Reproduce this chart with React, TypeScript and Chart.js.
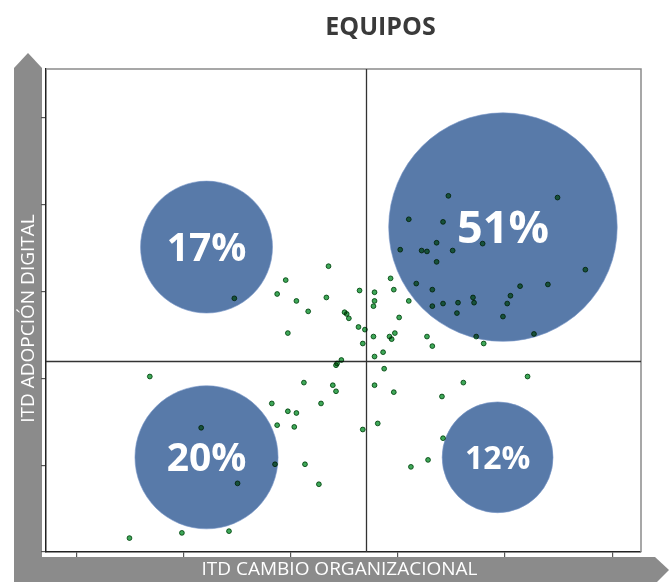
import React, { useEffect, useRef } from "react";
import { Chart, registerables } from "chart.js";

Chart.register(...registerables);

// ---- Text ----
const TITLE = "EQUIPOS";
const X_LABEL = "ITD CAMBIO ORGANIZACIONAL";
const Y_LABEL = "ITD ADOPCIÓN DIGITAL";

// ---- Axes ----
const X_TICKS = [10, 20, 30, 40, 50, 60];
const Y_TICKS = [0, 10, 20, 30, 40, 50];
const X_RANGE = [7.1, 62.7];
const Y_RANGE = [0, 55.6];
const X_SPLIT = 37.0;
const Y_SPLIT = 22.0;

// ---- Quadrant bubbles ----
const QUADRANT_LABELS = ["17%", "51%", "20%", "12%"];
const QUADRANT_SHARE = [17, 51, 20, 12];
const QUADRANT_X = [22.1, 49.8, 22.1, 49.3];
const QUADRANT_Y = [35.1, 37.4, 10.9, 10.9];

// ---- Individual teams ----
const TEAM_X = [
  33.5, 29.5, 28.7, 30.5, 31.6, 33.3, 36.4, 37.8, 37.8, 37.7,
  35.0, 35.2, 35.4, 29.7, 36.3, 36.9, 37.7, 36.7, 39.3, 39.6,
  41.0, 40.1, 39.7, 39.2, 39.4, 38.6, 37.8, 34.7, 34.3, 34.2,
  38.7, 31.2, 33.9, 34.2, 37.8, 39.6, 28.2, 32.8, 29.7, 30.5,
  28.7, 30.3, 36.7, 38.1, 28.5, 31.3, 32.6, 16.8, 21.6, 25.0,
  14.9, 19.8, 24.2, 46.1, 52.1, 44.1, 44.2, 42.8, 41.2, 24.7,
  44.7, 54.9, 41.0, 44.2, 43.6, 47.9, 40.2, 42.2, 42.7, 45.1,
  43.6, 57.5, 41.7, 43.2, 51.4, 54.0, 50.5, 44.2, 43.2, 45.6,
  47.0, 47.1, 50.2, 45.5, 49.8, 42.7, 43.2, 47.3, 52.7, 48.0,
];
const TEAM_Y = [
  32.9, 31.3, 29.7, 28.9, 27.7, 29.3, 30.1, 29.9, 28.9, 28.3,
  27.6, 27.4, 26.9, 25.2, 25.9, 25.6, 24.8, 24.0, 31.5, 30.2,
  28.9, 27.0, 25.2, 24.8, 24.5, 23.0, 22.5, 22.1, 21.7, 21.5,
  21.1, 19.5, 19.2, 18.5, 19.2, 18.4, 17.1, 17.1, 16.2, 16.0,
  14.6, 14.4, 14.1, 14.8, 10.1, 10.1, 7.8, 20.2, 14.3, 7.9,
  1.6, 2.2, 2.4, 19.5, 20.2, 17.9, 13.1, 10.6, 9.8, 29.2,
  41.0, 40.8, 38.3, 38.0, 35.6, 35.5, 34.8, 34.7, 34.6, 34.7,
  33.4, 32.5, 30.9, 30.2, 30.6, 30.8, 29.5, 28.6, 28.3, 28.7,
  29.3, 28.7, 28.6, 27.5, 27.1, 24.8, 23.7, 24.8, 25.1, 24.0,
];

// ---- Styles ----
const BUBBLE_COLOR = "#587aa9";
const DOT_FILL = "#3ea858";
const DOT_EDGE = "#226e35";
const BAND_COLOR = "#8b8b8b";
const LABEL_FONT_SIZES = [39, 45, 39, 32];
const FONT = '"Open Sans", "DejaVu Sans", sans-serif';

const decorPlugin = {
  id: "decor",
  beforeDraw(chart: any) {
    const ctx = chart.ctx as CanvasRenderingContext2D;
    const { left, top, right, bottom } = chart.chartArea;
    const W = chart.width;
    const H = chart.height;
    ctx.save();
    ctx.fillStyle = "#ffffff";
    ctx.fillRect(0, 0, W, H);

    // vertical arrow band
    ctx.fillStyle = BAND_COLOR;
    const bx0 = left - 32;
    const bx1 = left - 4;
    ctx.beginPath();
    ctx.moveTo(bx0, H);
    ctx.lineTo(bx0, top - 1);
    ctx.lineTo((bx0 + bx1) / 2, top - 16);
    ctx.lineTo(bx1, top - 1);
    ctx.lineTo(bx1, H);
    ctx.closePath();
    ctx.fill();

    // horizontal arrow band
    const by0 = bottom + 5;
    ctx.beginPath();
    ctx.moveTo(bx0, by0);
    ctx.lineTo(W - 14, by0);
    ctx.lineTo(W, by0 + 13);
    ctx.lineTo(W - 14, H + 2);
    ctx.lineTo(bx0, H + 2);
    ctx.closePath();
    ctx.fill();

    // title
    ctx.fillStyle = "#3a3a3a";
    ctx.font = `bold 25px ${FONT}`;
    ctx.textAlign = "center";
    ctx.textBaseline = "middle";
    ctx.fillText(TITLE, (left + right) / 2 + 37, 28);

    // axis titles
    ctx.fillStyle = "#ffffff";
    ctx.font = `19px ${FONT}`;
    ctx.fillText(X_LABEL, (left + right) / 2 - 4, by0 + 13);

    ctx.translate((bx0 + bx1) / 2, (top + bottom) / 2 + 8);
    ctx.rotate(-Math.PI / 2);
    ctx.fillText(Y_LABEL, 0, 1);
    ctx.restore();
  },
  beforeDatasetsDraw(chart: any) {
    const ctx = chart.ctx as CanvasRenderingContext2D;
    const { left, top, right, bottom } = chart.chartArea;
    const xs = chart.scales.x;
    const ys = chart.scales.y;
    ctx.save();
    // frame top / right
    ctx.strokeStyle = "#8a8a8a";
    ctx.lineWidth = 1.5;
    ctx.beginPath();
    ctx.moveTo(left, top);
    ctx.lineTo(right, top);
    ctx.lineTo(right, bottom);
    ctx.stroke();
    // quadrant dividers
    ctx.strokeStyle = "#333333";
    ctx.lineWidth = 1.3;
    const sx = Math.round(xs.getPixelForValue(X_SPLIT)) + 0.5;
    const sy = Math.round(ys.getPixelForValue(Y_SPLIT)) + 0.5;
    ctx.beginPath();
    ctx.moveTo(sx, top);
    ctx.lineTo(sx, bottom);
    ctx.moveTo(left, sy);
    ctx.lineTo(right, sy);
    ctx.stroke();
    ctx.restore();
  },
  beforeDatasetDraw(chart: any, args: any) {
    if (args.index === 1) {
      chart.ctx.save();
      chart.ctx.globalCompositeOperation = "multiply";
    }
  },
  afterDatasetDraw(chart: any, args: any) {
    if (args.index === 1) chart.ctx.restore();
  },
  afterDatasetsDraw(chart: any) {
    const ctx = chart.ctx as CanvasRenderingContext2D;
    const meta = chart.getDatasetMeta(0);
    ctx.save();
    ctx.fillStyle = "#ffffff";
    ctx.textAlign = "center";
    ctx.textBaseline = "alphabetic";
    meta.data.forEach((el: any, i: number) => {
      const size = LABEL_FONT_SIZES[i];
      ctx.font = `bold ${size}px ${FONT}`;
      ctx.fillText(QUADRANT_LABELS[i], el.x, el.y + size * 0.357);
    });
    ctx.restore();
  },
};

export default function App() {
  const ref = useRef<HTMLCanvasElement | null>(null);

  useEffect(() => {
    if (!ref.current) return;
    const bubbles = QUADRANT_SHARE.map((s, i) => ({
      x: QUADRANT_X[i],
      y: QUADRANT_Y[i],
      r: 16 * Math.sqrt(s),
    }));
    const teams = TEAM_X.map((x, i) => ({ x, y: TEAM_Y[i] }));

    const chart = new Chart(ref.current, {
      type: "bubble",
      data: {
        datasets: [
          {
            type: "bubble",
            label: "Cuadrantes",
            data: bubbles,
            backgroundColor: BUBBLE_COLOR,
            borderColor: "rgba(120,150,200,0.6)",
            borderWidth: 1,
            order: 1,
          } as any,
          {
            type: "scatter",
            label: "Equipos",
            data: teams,
            backgroundColor: DOT_FILL,
            borderColor: DOT_EDGE,
            borderWidth: 1,
            pointRadius: 2.4,
            order: 0,
          } as any,
        ],
      },
      options: {
        responsive: false,
        animation: false,
        devicePixelRatio: 1,
        layout: {
          autoPadding: false,
          padding: { left: 41, right: 28, top: 69, bottom: 25 },
        },
        plugins: {
          legend: { display: false },
          tooltip: { enabled: false },
          title: { display: false },
        },
        scales: {
          x: {
            type: "linear",
            min: X_RANGE[0],
            max: X_RANGE[1],
            afterBuildTicks: (s: any) => {
              s.ticks = X_TICKS.map((v) => ({ value: v }));
            },
            afterFit: (s: any) => {
              s.height = 5;
            },
            ticks: { display: false },
            grid: {
              drawOnChartArea: false,
              drawTicks: true,
              tickLength: 5,
              color: "#555555",
              lineWidth: 1.2,
            },
            border: { display: true, color: "#222222", width: 1.5 },
          },
          y: {
            type: "linear",
            min: Y_RANGE[0],
            max: Y_RANGE[1],
            afterBuildTicks: (s: any) => {
              s.ticks = Y_TICKS.map((v) => ({ value: v }));
            },
            afterFit: (s: any) => {
              s.width = 5;
            },
            ticks: { display: false },
            grid: {
              drawOnChartArea: false,
              drawTicks: true,
              tickLength: 5,
              color: "#555555",
              lineWidth: 1.2,
            },
            border: { display: true, color: "#222222", width: 1.5 },
          },
        },
      } as any,
      plugins: [decorPlugin],
    });
    return () => chart.destroy();
  }, []);

  return (
    <div style={{ position: "absolute", left: 0, top: 0, width: 669, height: 582 }}>
      <canvas ref={ref} width={669} height={582} style={{ display: "block" }} />
    </div>
  );
}
